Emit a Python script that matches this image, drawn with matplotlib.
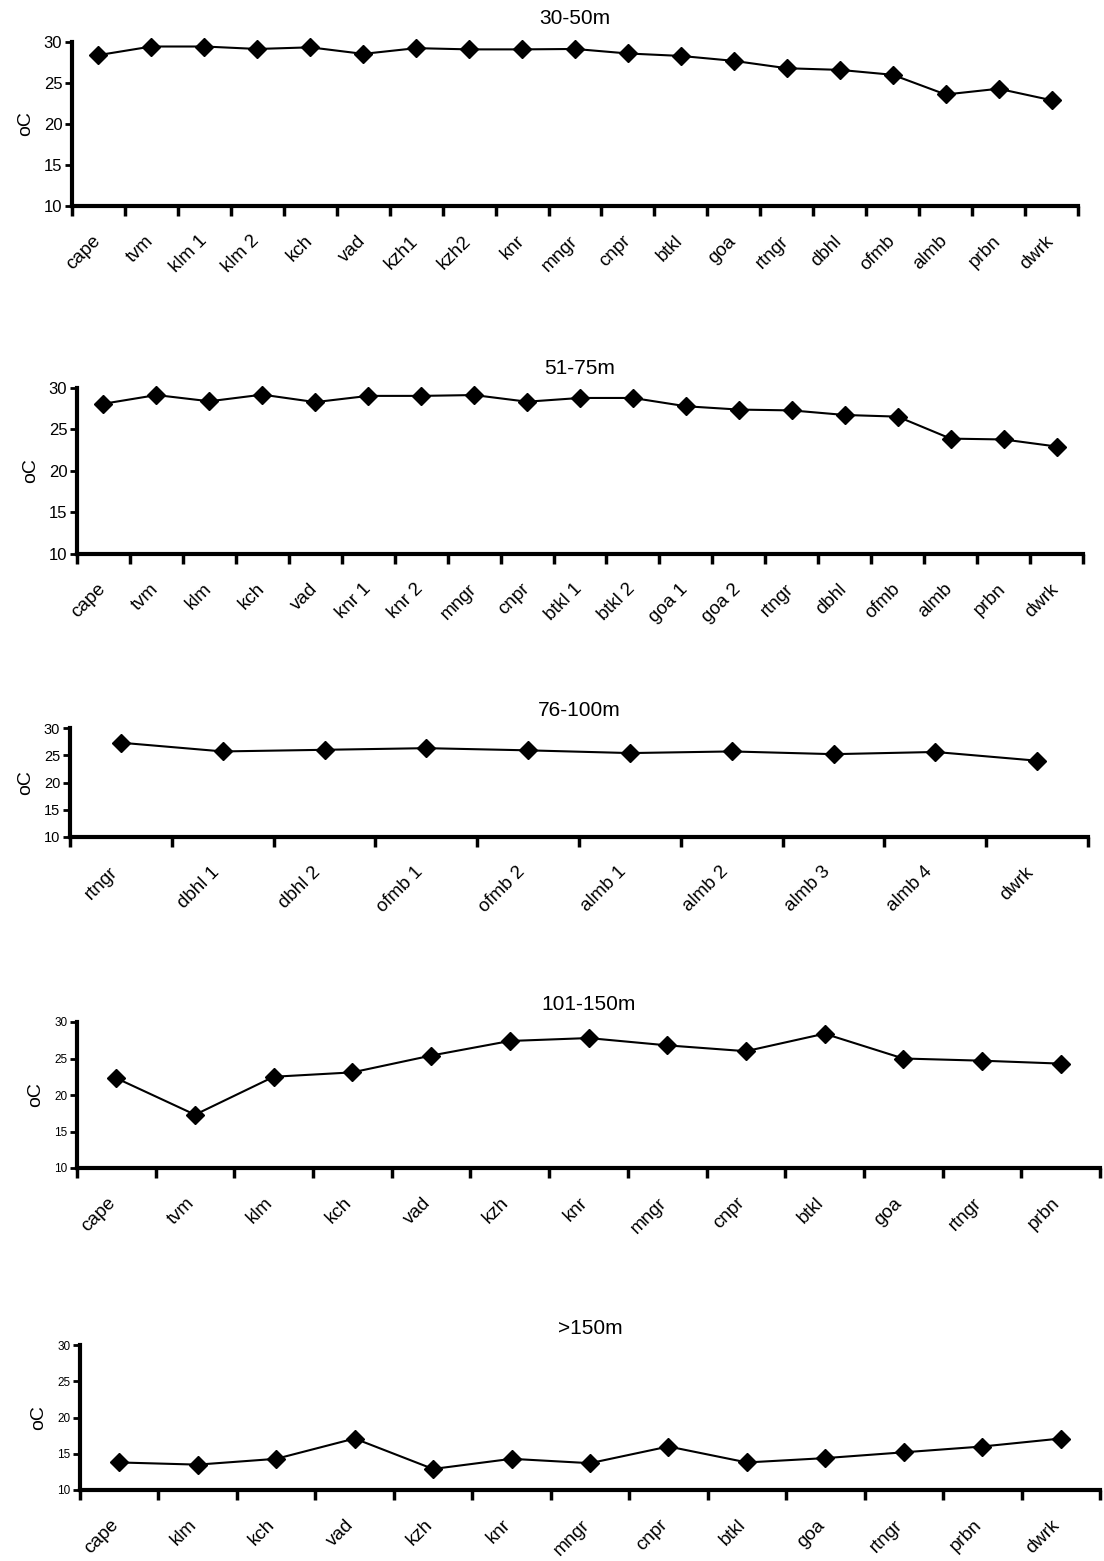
import matplotlib
matplotlib.use('Agg')
import matplotlib.pyplot as plt
from matplotlib.ticker import FixedLocator, NullFormatter

plt.rcParams['font.family'] = ['Liberation Sans', 'DejaVu Sans']

# ---------------------------------------------------------------------------
# Data (temperature, oC) per depth band
# ---------------------------------------------------------------------------
sites_30_50 = ['cape', 'tvm', 'klm 1', 'klm 2', 'kch', 'vad', 'kzh1', 'kzh2', 'knr', 'mngr',
               'cnpr', 'btkl', 'goa', 'rtngr', 'dbhl', 'ofmb', 'almb', 'prbn', 'dwrk']
temp_30_50 = [28.4, 29.45, 29.45, 29.15, 29.35, 28.55, 29.25, 29.1, 29.1, 29.15,
              28.6, 28.3, 27.7, 26.8, 26.6, 26.0, 23.6, 24.3, 22.9]

sites_51_75 = ['cape', 'tvm', 'klm', 'kch', 'vad', 'knr 1', 'knr 2', 'mngr', 'cnpr', 'btkl 1',
               'btkl 2', 'goa 1', 'goa 2', 'rtngr', 'dbhl', 'ofmb', 'almb', 'prbn', 'dwrk']
temp_51_75 = [28.1, 29.15, 28.4, 29.2, 28.3, 29.05, 29.05, 29.15, 28.35, 28.8,
              28.8, 27.8, 27.4, 27.3, 26.75, 26.55, 23.9, 23.8, 22.95]

sites_76_100 = ['rtngr', 'dbhl 1', 'dbhl 2', 'ofmb 1', 'ofmb 2', 'almb 1', 'almb 2',
                'almb 3', 'almb 4', 'dwrk']
temp_76_100 = [27.3, 25.7, 26.0, 26.3, 25.9, 25.4, 25.7, 25.2, 25.6, 24.0]

sites_101_150 = ['cape', 'tvm', 'klm', 'kch', 'vad', 'kzh', 'knr', 'mngr', 'cnpr', 'btkl',
                 'goa', 'rtngr', 'prbn']
temp_101_150 = [22.3, 17.3, 22.5, 23.1, 25.4, 27.4, 27.8, 26.8, 26.0, 28.4, 25.0, 24.7, 24.3]

sites_150 = ['cape', 'klm', 'kch', 'vad', 'kzh', 'knr', 'mngr', 'cnpr', 'btkl', 'goa',
             'rtngr', 'prbn', 'dwrk']
temp_150 = [13.8, 13.5, 14.3, 17.1, 12.9, 14.3, 13.7, 16.0, 13.8, 14.4, 15.2, 16.0, 17.1]

W, H = 1104, 1561
fig = plt.figure(figsize=(W / 100, H / 100), dpi=100)

# pixel boxes: left, right, top(30), bottom(10), title y ; y tick label size
panels = [
    ('30-50m', sites_30_50, temp_30_50, (72, 1078, 42, 206, 18), 12),
    ('51-75m', sites_51_75, temp_51_75, (77, 1083, 388, 554, 368), 12),
    ('76-100m', sites_76_100, temp_76_100, (70, 1088, 728, 837, 710), 10.5),
    ('101-150m', sites_101_150, temp_101_150, (77, 1100, 1022, 1168, 1005), 8.5),
    ('>150m', sites_150, temp_150, (80, 1100, 1345, 1490, 1328), 8.5),
]

for title, sites, temps, box, ysize in panels:
    left, right, top, bottom, ty = box
    ax = fig.add_axes([left / W, 1 - bottom / H, (right - left) / W, (bottom - top) / H])
    n = len(sites)
    xs = [i + 0.5 for i in range(n)]
    ax.plot(xs, temps, color='black', linewidth=1.5, marker='D', markersize=9,
            markerfacecolor='black', markeredgecolor='black', clip_on=False)
    ax.set_xlim(0, n)
    ax.set_ylim(10, 30)
    ax.set_yticks([10, 15, 20, 25, 30])

    for s in ['top', 'right']:
        ax.spines[s].set_visible(False)
    for s in ['left', 'bottom']:
        ax.spines[s].set_linewidth(3)

    ax.xaxis.set_major_locator(FixedLocator(list(range(n + 1))))
    ax.xaxis.set_major_formatter(NullFormatter())
    ax.xaxis.set_minor_locator(FixedLocator([x - 0.12 for x in xs]))
    ax.set_xticklabels(sites, minor=True, rotation=45, ha='right', rotation_mode='anchor',
                       fontsize=13.5)
    ax.tick_params(axis='x', which='major', direction='out', length=7, width=2.5)
    ax.tick_params(axis='x', which='minor', length=0, pad=19)
    ax.tick_params(axis='y', direction='out', length=5, width=2,
                   labelsize=ysize, pad=2)

    ax.set_ylabel('oC', fontsize=14, labelpad=7)
    fig.text(((left + right) / 2) / W, 1 - ty / H, title, ha='center', va='center', fontsize=15)

plt.savefig('out.png', dpi=100)
